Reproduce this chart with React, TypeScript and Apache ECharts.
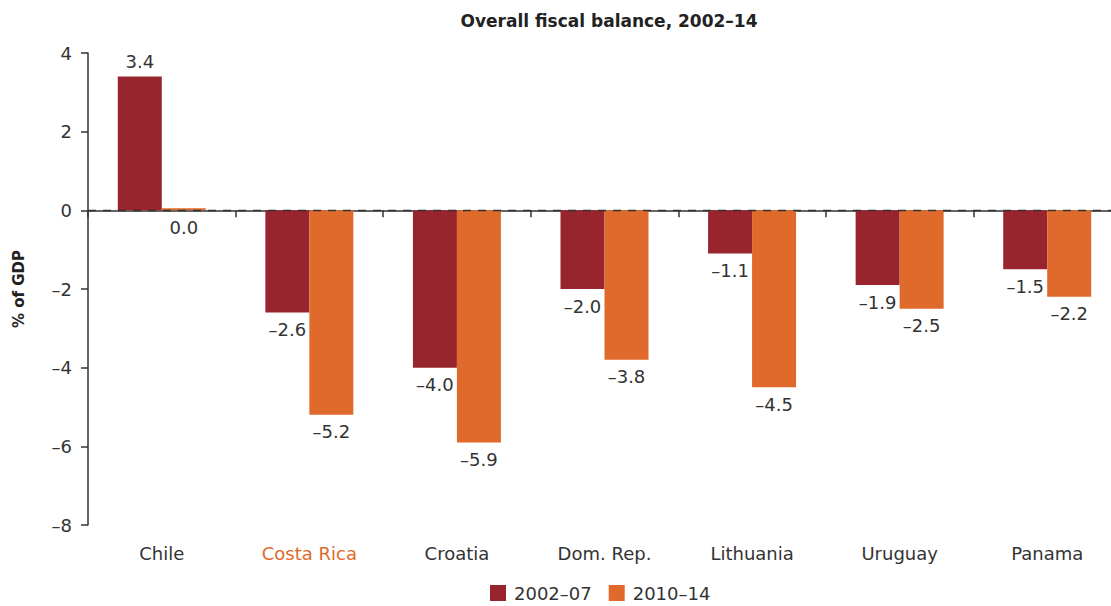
import React, { useEffect, useRef } from "react";
import * as echarts from "echarts";

const categories = ["Chile", "Costa Rica", "Croatia", "Dom. Rep.", "Lithuania", "Uruguay", "Panama"];
const seriesNames = ["2002–07", "2010–14"];
const values2002 = [3.4, -2.6, -4.0, -2.0, -1.1, -1.9, -1.5];
const values2010 = [0.0, -5.2, -5.9, -3.8, -4.5, -2.5, -2.2];
const colors = ["#98252D", "#E06A2B"];
const FONT = "DejaVu Sans";
const TEXT = "#333";

const fmt = (v: number) => {
  const s = Math.abs(v).toFixed(1);
  return v < 0 ? "\u2013" + s : s;
};

const mkData = (arr: number[]) =>
  arr.map((v) => ({
    value: v,
    label: v > 0 ? { position: "top", distance: 6 } : { position: "bottom", distance: 8 },
  }));

export default function App() {
  const ref = useRef<HTMLDivElement>(null);
  useEffect(() => {
    if (!ref.current) return;
    const chart = echarts.init(ref.current, null, { renderer: "svg" });
    const labelStyle = {
      show: true,
      fontFamily: FONT,
      fontSize: 18,
      color: TEXT,
      formatter: (p: any) => fmt(p.value),
    };
    chart.setOption({
      animation: false,
      title: {
        text: "Overall fiscal balance, 2002–14",
        left: 604,
        textAlign: "center",
        top: 7,
        textStyle: { fontFamily: FONT, fontSize: 17, fontWeight: "bold", color: "#222" },
      },
      legend: {
        left: 485,
        top: 579,
        itemWidth: 16,
        itemHeight: 16,
        itemGap: 17,
        icon: "rect",
        textStyle: { fontFamily: FONT, fontSize: 18, color: TEXT, padding: [0, 0, 0, 3] },
        data: seriesNames,
      },
      grid: { left: 88, right: 0, top: 53, bottom: 81, containLabel: false },
      xAxis: {
        type: "category",
        data: categories,
        axisLine: { lineStyle: { color: "#333", width: 1.5 } },
        axisTick: { show: true, length: 7, lineStyle: { color: "#333", width: 1.5 } },
        axisLabel: {
          fontFamily: FONT,
          fontSize: 18,
          margin: 19,
          color: (v: string) => (v === "Costa Rica" ? "#E06A2B" : TEXT),
        },
      },
      yAxis: {
        type: "value",
        min: -8,
        max: 4,
        interval: 2,
        name: "% of GDP",
        nameLocation: "middle",
        nameGap: 62,
        nameTextStyle: { fontFamily: FONT, fontSize: 15, fontWeight: "bold", color: "#222" },
        axisLine: { show: true, lineStyle: { color: "#333", width: 1.5 } },
        axisTick: { show: true, length: 7, lineStyle: { color: "#333", width: 1.5 } },
        splitLine: { show: false },
        axisLabel: {
          fontFamily: FONT,
          fontSize: 18,
          margin: 16,
          color: TEXT,
          formatter: (v: number) => (v < 0 ? "\u2013" + Math.abs(v) : String(v)),
        },
      },
      series: [
        {
          name: seriesNames[0],
          type: "bar",
          data: mkData(values2002),
          barWidth: 44,
          barGap: "0%",
          itemStyle: { color: colors[0] },
          label: labelStyle,
          markLine: {
            silent: true,
            symbol: "none",
            label: { show: false },
            lineStyle: { color: "#333", type: [8, 7], width: 1.3 },
            data: [{ yAxis: 0 }],
            z: 10,
          },
        },
        {
          name: seriesNames[1],
          type: "bar",
          data: mkData(values2010),
          barWidth: 44,
          barMinHeight: 2,
          itemStyle: { color: colors[1] },
          label: labelStyle,
        },
      ],
    });
    return () => chart.dispose();
  }, []);
  return (
    <div style={{ position: "absolute", left: 0, top: 0, width: 1111, height: 606, overflow: "hidden" }}>
      <div ref={ref} style={{ width: 1121, height: 606 }} />
    </div>
  );
}
